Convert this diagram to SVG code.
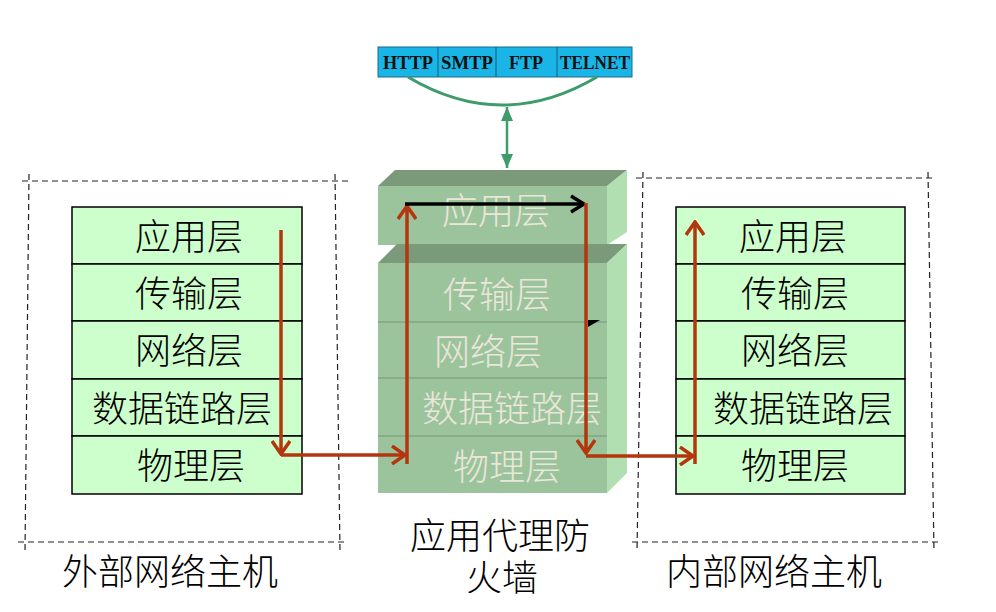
<svg xmlns="http://www.w3.org/2000/svg" width="996" height="612" viewBox="0 0 996 612">
<style>
.t{font-family:"Noto Sans CJK SC","Noto Sans",sans-serif;font-size:36px;font-weight:300;fill:#000;text-anchor:middle}
.fw{fill:#ebe6da}
.box{fill:#ccffcc;stroke:#000;stroke-width:1.5}
.dash{fill:none;stroke:#222;stroke-width:1.2;stroke-dasharray:6 4}
.red{fill:none;stroke:#b3360e;stroke-width:3.5}
.proto{font-family:"Liberation Serif",serif;font-weight:bold;font-size:18px;text-anchor:middle;fill:#111}
.front{fill:#9cc49c}
.top{fill:#7a9a7a}
.side{fill:#b2dfb2}
.div{stroke:#88ad88;stroke-width:2}
</style>
<defs>
<marker id="ar" markerUnits="userSpaceOnUse" viewBox="0 0 16 20" refX="14" refY="10" markerWidth="16" markerHeight="20" orient="auto">
<path d="M1,1 L14,10 L1,19" fill="none" stroke="#b3360e" stroke-width="3.5"/>
</marker>
<marker id="ab" markerUnits="userSpaceOnUse" viewBox="0 0 16 20" refX="14" refY="10" markerWidth="16" markerHeight="20" orient="auto">
<path d="M1,2 L14,10 L1,18" fill="none" stroke="#000" stroke-width="3.5"/>
</marker>
<marker id="ag" markerUnits="userSpaceOnUse" viewBox="0 0 14 12" refX="14" refY="6" markerWidth="14" markerHeight="12" orient="auto">
<path d="M0,0 L14,6 L0,12 Z" fill="#3f9b6b"/>
</marker>
<marker id="ag2" markerUnits="userSpaceOnUse" viewBox="0 0 14 12" refX="0" refY="6" markerWidth="14" markerHeight="12" orient="auto">
<path d="M14,0 L0,6 L14,12 Z" fill="#3f9b6b"/>
</marker>
</defs>
<rect width="996" height="612" fill="#fff"/>

<g id="protocols">
<rect x="378" y="47" width="254" height="30" fill="#19b5e6" stroke="#1a6a8a" stroke-width="1"/>
<line x1="438" y1="47" x2="438" y2="77" stroke="#1a5a7a"/>
<line x1="496" y1="47" x2="496" y2="77" stroke="#1a5a7a"/>
<line x1="557" y1="47" x2="557" y2="77" stroke="#1a5a7a"/>
<text class="proto" x="408" y="69" textLength="50" lengthAdjust="spacingAndGlyphs">HTTP</text>
<text class="proto" x="467" y="69" textLength="52" lengthAdjust="spacingAndGlyphs">SMTP</text>
<text class="proto" x="526" y="69" textLength="34" lengthAdjust="spacingAndGlyphs">FTP</text>
<text class="proto" x="595" y="69" textLength="70" lengthAdjust="spacingAndGlyphs">TELNET</text>
<path d="M408,77 Q502,133 597,77" fill="none" stroke="#3f9b6b" stroke-width="3"/>
</g>

<g id="external-host">
<path class="dash" d="M22,181 H348 M29,174 L25,552 M335,174 L340,552 M18,542 H348"/>
<rect class="box" x="72" y="207" width="230" height="57"/>
<rect class="box" x="72" y="264" width="230" height="57"/>
<rect class="box" x="72" y="321" width="230" height="58"/>
<rect class="box" x="72" y="379" width="230" height="57"/>
<rect class="box" x="72" y="436" width="230" height="58"/>
<text class="t" x="189" y="250">应用层</text>
<text class="t" x="189" y="307">传输层</text>
<text class="t" x="189" y="364">网络层</text>
<text class="t" x="182" y="422">数据链路层</text>
<text class="t" x="191" y="479">物理层</text>
<text class="t" x="170" y="585">外部网络主机</text>
</g>

<g id="firewall">
<polygon class="top" points="378,186 395,170 627,170 607,186"/>
<rect class="front" x="378" y="186" width="229" height="59"/>
<polygon class="side" points="607,186 627,170 627,232 607,245"/>
<polygon class="top" points="378,263 397,244 627,244 607,263"/>
<rect class="front" x="378" y="263" width="229" height="230"/>
<polygon class="side" points="607,263 627,244 627,473 607,493"/>
<line class="div" x1="378" y1="322" x2="607" y2="322"/>
<line class="div" x1="378" y1="378" x2="607" y2="378"/>
<line class="div" x1="378" y1="436" x2="607" y2="436"/>
<polygon points="588,320 600,320 588,327" fill="#000"/>
<text class="t fw" x="496" y="224">应用层</text>
<text class="t fw" x="497" y="308">传输层</text>
<text class="t fw" x="488" y="365">网络层</text>
<text class="t fw" x="512" y="422">数据链路层</text>
<text class="t fw" x="507" y="480">物理层</text>
<text class="t" x="500" y="549">应用代理防</text>
<text class="t" x="502" y="591">火墙</text>
</g>

<g id="internal-host">
<path class="dash" d="M636,178 H935 M643,172 L637,552 M928,172 L934,552 M632,542 H940"/>
<rect class="box" x="676" y="207" width="229" height="57"/>
<rect class="box" x="676" y="264" width="229" height="57"/>
<rect class="box" x="676" y="321" width="229" height="58"/>
<rect class="box" x="676" y="379" width="229" height="57"/>
<rect class="box" x="676" y="436" width="229" height="58"/>
<text class="t" x="793" y="250">应用层</text>
<text class="t" x="795" y="307">传输层</text>
<text class="t" x="795" y="364">网络层</text>
<text class="t" x="803" y="422">数据链路层</text>
<text class="t" x="795" y="479">物理层</text>
<text class="t" x="774" y="585">内部网络主机</text>
</g>

<g id="connectors">
<line x1="507" y1="107" x2="507" y2="168" stroke="#3f9b6b" stroke-width="2.5" marker-start="url(#ag2)" marker-end="url(#ag)"/>
<path class="red" d="M281,230 V454" marker-end="url(#ar)"/>
<path class="red" d="M281,455 H405" marker-end="url(#ar)"/>
<path class="red" d="M407,464 V206" marker-end="url(#ar)"/>
<path d="M405,204 H584" fill="none" stroke="#000" stroke-width="3.5" marker-end="url(#ab)"/>
<path class="red" d="M586,203 V453" marker-end="url(#ar)"/>
<path class="red" d="M586,456 H693" marker-end="url(#ar)"/>
<path class="red" d="M695,464 V222" marker-end="url(#ar)"/>
</g>
</svg>
